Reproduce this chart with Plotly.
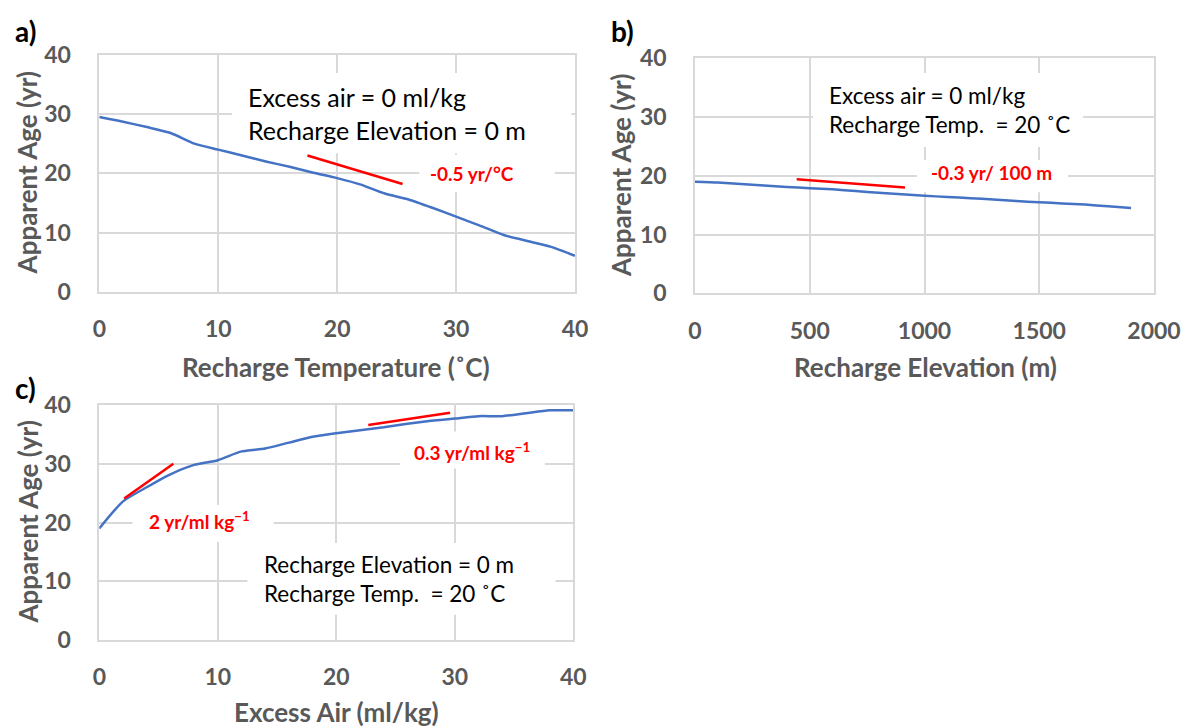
import plotly.graph_objects as go

# ---------------- data ----------------
temp_x = [0, 2, 4, 6, 8, 10, 12, 14, 16, 18, 20, 22, 24, 26, 28, 30, 32, 34, 36, 38, 40]
temp_age = [29.5, 28.7, 27.8, 26.8, 25.0, 24.0, 23.0, 22.0, 21.1, 20.1, 19.2, 18.1,
            16.6, 15.6, 14.2, 12.7, 11.2, 9.6, 8.6, 7.6, 6.1]

elev_x = [0, 100, 200, 300, 400, 500, 600, 700, 800, 900, 1000, 1100, 1200, 1300,
          1400, 1500, 1600, 1700, 1800, 1900]
elev_age = [19.0, 18.85, 18.6, 18.35, 18.1, 17.9, 17.7, 17.4, 17.1, 16.85, 16.6, 16.4,
            16.2, 15.95, 15.7, 15.5, 15.3, 15.1, 14.8, 14.5]

air_x = [0, 2, 4, 6, 8, 10, 12, 14, 16, 18, 20, 22, 24, 26, 28, 30, 32, 34, 36, 38, 40]
air_age = [19.0, 23.6, 26.0, 28.2, 29.8, 30.6, 32.1, 32.6, 33.6, 34.6, 35.2, 35.7,
           36.2, 36.8, 37.3, 37.7, 38.1, 38.1, 38.6, 39.1, 39.1]

# slope indicator lines
slope_a_x = [17.5, 25.5]
slope_a_y = [23.0, 18.2]
slope_b_x = [443, 915]
slope_b_y = [19.4, 18.0]
slope_c1_x = [2.1, 6.25]
slope_c1_y = [24.1, 30.0]
slope_c2_x = [22.7, 29.6]
slope_c2_y = [36.6, 38.7]

y_ticks = [0, 10, 20, 30, 40]
temp_ticks = [0, 10, 20, 30, 40]
elev_ticks = [0, 500, 1000, 1500, 2000]
air_ticks = [0, 10, 20, 30, 40]

# ---------------- styling ----------------
W, H = 1185, 727
FONT = "Lato"
BLUE = "#4472C4"
RED = "#FF0000"
GRID = "#d9d9d9"
GRAY = "#595959"


def px(x):
    return x / W


def py(y):
    return 1 - y / H


fig = go.Figure()

fig.add_trace(go.Scatter(x=temp_x, y=temp_age, mode="lines", xaxis="x", yaxis="y",
                         line=dict(color=BLUE, width=2.5, shape="spline", smoothing=0.6)))
fig.add_trace(go.Scatter(x=elev_x, y=elev_age, mode="lines", xaxis="x2", yaxis="y2",
                         line=dict(color=BLUE, width=2.5, shape="spline", smoothing=0.6)))
fig.add_trace(go.Scatter(x=air_x, y=air_age, mode="lines", xaxis="x3", yaxis="y3",
                         line=dict(color=BLUE, width=2.5, shape="spline", smoothing=0.6)))

for sx, sy, xa, ya in [(slope_a_x, slope_a_y, "x", "y"),
                       (slope_b_x, slope_b_y, "x2", "y2"),
                       (slope_c1_x, slope_c1_y, "x3", "y3"),
                       (slope_c2_x, slope_c2_y, "x3", "y3")]:
    fig.add_trace(go.Scatter(x=sx, y=sy, mode="lines", xaxis=xa, yaxis=ya,
                             line=dict(color=RED, width=2.5)))


def xaxis(domain, rng, ticks, anchor):
    return dict(domain=domain, range=rng, tickvals=ticks, anchor=anchor,
                showgrid=True, gridcolor=GRID, gridwidth=1.5, zeroline=False,
                showline=True, linecolor=GRID, linewidth=1.5, mirror=True,
                ticks="", ticklabelstandoff=16, automargin=False,
                tickfont=dict(family=FONT, size=23, color=GRAY, weight="bold"))


def yaxis(domain, ticks, anchor):
    return dict(domain=domain, range=[0, 40], tickvals=ticks, anchor=anchor,
                showgrid=True, gridcolor=GRID, gridwidth=1.5, zeroline=False,
                showline=True, linecolor=GRID, linewidth=1.5, mirror=True,
                ticks="", ticklabelstandoff=22, automargin=False,
                tickfont=dict(family=FONT, size=23, color=GRAY, weight="bold"))


fig.update_layout(
    width=W, height=H, margin=dict(l=0, r=0, t=0, b=0, pad=0),
    paper_bgcolor="white", plot_bgcolor="white", showlegend=False,
    xaxis=xaxis([px(99.3), px(575)], [0, 40], temp_ticks, "y"),
    yaxis=yaxis([py(292), py(54.7)], y_ticks, "x"),
    xaxis2=xaxis([px(695), px(1154)], [0, 2000], elev_ticks, "y2"),
    yaxis2=yaxis([py(293.3), py(58.3)], y_ticks, "x2"),
    xaxis3=xaxis([px(99.3), px(573.3)], [0, 40], air_ticks, "y3"),
    yaxis3=yaxis([py(640), py(405)], y_ticks, "x3"),
)

# white text boxes covering the gridlines
boxes = [
    ("x", "y", 11.15, 39.7, 23.4, 36.9),
    ("x", "y", 26.9, 38.3, 16.9, 23.1),
    ("x2", "y2", 514, 1691, 24.9, 37.5),
    ("x2", "y2", 967, 1625, 17.2, 22.7),
    ("x3", "y3", 12.5, 38.5, 4.3, 16.5),
    ("x3", "y3", 2.8, 14.7, 16.7, 23.0),
    ("x3", "y3", 25.4, 37.6, 29.2, 35.5),
]
for xr, yr, x0, x1, y0, y1 in boxes:
    fig.add_shape(type="rect", xref=xr, yref=yr, x0=x0, x1=x1, y0=y0, y1=y1,
                  fillcolor="white", line=dict(width=0), layer="between")

ann = []
# panel labels
for t, x, y in [("a)", 25.5, 31), ("b)", 622, 31), ("c)", 25.5, 388)]:
    ann.append(dict(text=t, x=px(x), y=py(y), xref="paper", yref="paper",
                    showarrow=False, xanchor="center", yanchor="middle",
                    font=dict(family=FONT, size=28, color="black", weight="bold")))
# axis titles
for t, x, y, ang in [("Apparent Age (yr)", 27, 173.4, -90),
                     ("Apparent Age (yr)", 621, 176, -90),
                     ("Apparent Age (yr)", 27, 522.5, -90),
                     ("Recharge Temperature (˚C)", 336, 367, 0),
                     ("Recharge Elevation (m)", 925, 367, 0),
                     ("Excess Air (ml/kg)", 336, 712, 0)]:
    ann.append(dict(text=t, x=px(x), y=py(y), xref="paper", yref="paper",
                    showarrow=False, xanchor="center", yanchor="middle", textangle=ang,
                    font=dict(family=FONT, size=26, color=GRAY, weight="bold")))
# info texts
for t, x, y, s in [("Excess air = 0 ml/kg<br>Recharge Elevation = 0 m", 245.7, 113, 25),
                   ("Excess air = 0 ml/kg<br>Recharge Temp.  = 20 ˚C", 826.7, 110.5, 22.5),
                   ("Recharge Elevation = 0 m<br>Recharge Temp.  = 20 ˚C", 261.7, 579, 22.5)]:
    ann.append(dict(text=t, x=px(x), y=py(y), xref="paper", yref="paper",
                    showarrow=False, xanchor="left", yanchor="middle", align="left",
                    font=dict(family=FONT, size=s, color="black")))
# slope labels
for t, x, y in [("-0.5 yr/°C", 472, 173.5),
                ("-0.3 yr/ 100 m", 991.7, 172.7),
                ("2 yr/ml kg<sup>−1</sup>", 199.7, 520),
                ("0.3 yr/ml kg<sup>−1</sup>", 472, 451.7)]:
    ann.append(dict(text=t, x=px(x), y=py(y), xref="paper", yref="paper",
                    showarrow=False, xanchor="center", yanchor="middle",
                    font=dict(family=FONT, size=19, color=RED, weight="bold")))

fig.update_layout(annotations=ann)

fig.write_html("out.html")
